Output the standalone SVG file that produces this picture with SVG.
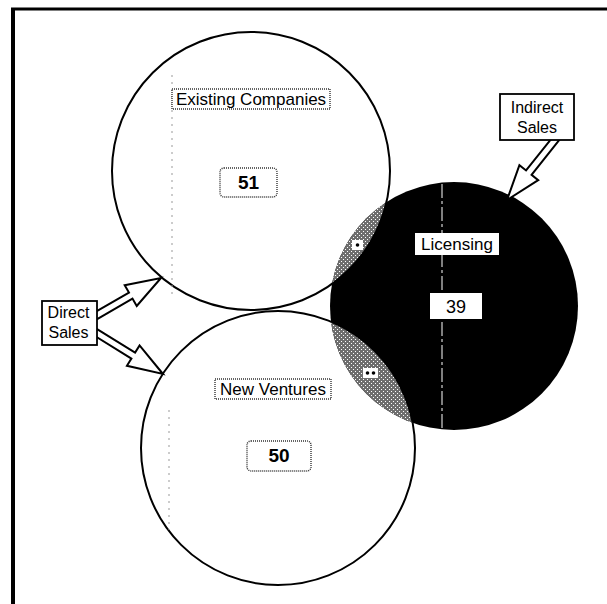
<svg xmlns="http://www.w3.org/2000/svg" width="607" height="604" viewBox="0 0 607 604">
<style>
  text { font-family: "Liberation Sans", Arial, sans-serif; fill: #000; text-anchor: middle; }
  .circ { fill: #fff; stroke: #000; stroke-width: 2; }
  .dotbox { fill: #fff; stroke: #333; stroke-width: 1.4; stroke-dasharray: 1 1; }
  .solidbox { fill: #fff; stroke: #000; stroke-width: 1.8; }
  .arrow { fill: #fff; stroke: #000; stroke-width: 2; stroke-linejoin: miter; }
  .artifact { stroke: #999; stroke-width: 1; stroke-dasharray: 2 5; fill: none; }
  .lbl { font-size: 17px; }
  .num { font-size: 19px; font-weight: bold; }
  .small { font-size: 16px; }
</style>
<defs>
  <pattern id="dither" width="4" height="4" patternUnits="userSpaceOnUse">
    <rect width="4" height="4" fill="#6e6e6e"/>
    <rect x="1" y="1" width="1" height="1" fill="#fff"/>
    <rect x="3" y="3" width="1" height="1" fill="#fff"/>
  </pattern>
  <clipPath id="c3clip"><circle cx="454" cy="306" r="124"/></clipPath>
</defs>

<!-- frame -->
<g id="frame">
  <line x1="11" y1="9" x2="607" y2="9" stroke="#000" stroke-width="3"/>
  <line x1="13" y1="8" x2="13" y2="604" stroke="#000" stroke-width="4"/>
</g>

<g id="existing-companies">
  <circle class="circ" cx="251" cy="171" r="139"/>
  <line class="artifact" x1="172" y1="75" x2="172" y2="295"/>
  <rect class="dotbox" x="172" y="89" width="158" height="20"/>
  <text class="lbl" x="251" y="105">Existing Companies</text>
  <rect class="dotbox" x="220" y="168" width="57" height="29" rx="4"/>
  <text class="num" x="248.5" y="189">51</text>
</g>

<g id="new-ventures">
  <circle class="circ" cx="278" cy="448" r="137"/>
  <line class="artifact" x1="169" y1="410" x2="169" y2="530"/>
  <rect class="dotbox" x="215" y="379" width="116" height="20"/>
  <text class="lbl" x="273" y="395">New Ventures</text>
  <rect class="dotbox" x="247" y="441" width="64" height="30" rx="4"/>
  <text class="num" x="279" y="462">50</text>
</g>

<g id="licensing">
  <circle cx="454" cy="306" r="124" fill="#000"/>
  <g clip-path="url(#c3clip)">
    <circle cx="251" cy="171" r="139" fill="url(#dither)" stroke="#000" stroke-width="2"/>
    <circle cx="278" cy="448" r="137" fill="url(#dither)" stroke="#000" stroke-width="2"/>
  </g>
  <line x1="442" y1="184" x2="442" y2="428" stroke="#fff" stroke-width="1" stroke-dasharray="14 3 3 3"/>
  <rect x="352" y="240" width="11" height="10" fill="#fff"/>
  <circle cx="357.5" cy="245" r="1.8" fill="#000"/>
  <rect x="363" y="368" width="15" height="10" fill="#fff"/>
  <circle cx="367.5" cy="373" r="1.8" fill="#000"/>
  <circle cx="373.5" cy="373" r="1.8" fill="#000"/>
  <rect x="415" y="233" width="84" height="22" fill="#fff"/>
  <text class="lbl" x="457" y="250">Licensing</text>
  <rect x="430" y="293" width="52" height="26" fill="#fff"/>
  <text x="456" y="313" style="font-size:18px">39</text>
</g>

<g id="connectors">
  <polygon class="arrow" points="560.74,138.18 531.55,174.81 538.20,180.11 507,200 519.42,165.15 526.07,170.45 555.26,133.82"/>
  <polygon class="arrow" points="90.25,314.97 128.97,292.52 124.70,285.17 161,278 136.74,305.93 132.48,298.58 93.76,321.03"/>
  <polygon class="arrow" points="93.84,327.03 135.09,352.59 139.57,345.36 163,374 126.93,365.76 131.41,358.54 90.16,332.98"/>
</g>

<g id="indirect-sales">
  <rect class="solidbox" x="500" y="94" width="74" height="46"/>
  <text class="small" x="537" y="113">Indirect</text>
  <text class="small" x="537" y="133">Sales</text>
</g>

<g id="direct-sales">
  <rect class="solidbox" x="42" y="301" width="55" height="44"/>
  <text class="small" x="68.5" y="318">Direct</text>
  <text class="small" x="68.5" y="338">Sales</text>
</g>
</svg>
